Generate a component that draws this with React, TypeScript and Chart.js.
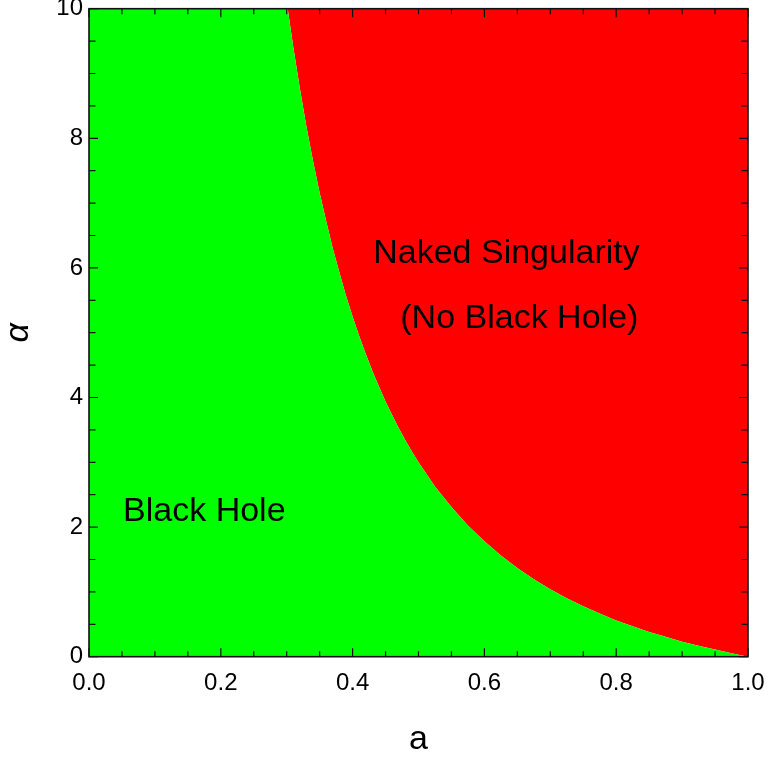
import React, { useEffect, useRef } from "react";
import { Chart, registerables } from "chart.js";

Chart.register(...registerables);

// Boundary between the black-hole region and the naked-singularity region
const boundaryA = [
  0.3015, 0.31, 0.32, 0.33, 0.34, 0.35, 0.36, 0.37, 0.38, 0.39, 0.4, 0.41, 0.42, 0.43, 0.44, 0.45, 0.46, 0.47,
  0.48, 0.49, 0.5, 0.525, 0.55, 0.575, 0.6, 0.625, 0.65, 0.675, 0.7, 0.725, 0.75, 0.775, 0.8, 0.825, 0.85,
  0.875, 0.9, 0.925, 0.95, 0.975, 1.0,
];
const boundaryAlpha = [
  10, 9.41, 8.77, 8.18, 7.65, 7.16, 6.72, 6.3, 5.93, 5.57, 5.25, 4.95, 4.67, 4.41, 4.17, 3.94, 3.73, 3.53,
  3.34, 3.165, 3.0, 2.628, 2.31, 2.025, 1.78, 1.56, 1.37, 1.195, 1.04, 0.9025, 0.78, 0.665, 0.56, 0.469, 0.38,
  0.306, 0.23, 0.169, 0.11, 0.052, 0,
];

// Axis ticks
const xMajorTicks = [0, 0.2, 0.4, 0.6, 0.8, 1.0];
const xMinorTicks = [0.05, 0.1, 0.15, 0.25, 0.3, 0.35, 0.45, 0.5, 0.55, 0.65, 0.7, 0.75, 0.85, 0.9, 0.95];
const yMajorTicks = [0, 2, 4, 6, 8, 10];
const yMinorTicks = [0.5, 1, 1.5, 2.5, 3, 3.5, 4.5, 5, 5.5, 6.5, 7, 7.5, 8.5, 9, 9.5];

// Region labels (text, a, alpha of baseline)
const labelTexts = ["Naked Singularity", "(No Black Hole)", "Black Hole"];
const labelA = [0.6335, 0.653, 0.175];
const labelAlpha = [6.075, 5.07, 2.1];

const FONT = '"Liberation Sans", Arial, sans-serif';

const framePlugin = {
  id: "frameTicks",
  afterDatasetsDraw(chart: any) {
    const ctx = chart.ctx as CanvasRenderingContext2D;
    const xs = chart.scales.x;
    const ys = chart.scales.y;
    ctx.save();
    ctx.fillStyle = "#000";
    ctx.font = `34px ${FONT}`;
    ctx.textAlign = "center";
    ctx.textBaseline = "alphabetic";
    labelTexts.forEach((t, i) => {
      ctx.fillText(t, xs.getPixelForValue(labelA[i]), ys.getPixelForValue(labelAlpha[i]));
    });
    ctx.restore();
  },
  afterDraw(chart: any) {
    const ctx = chart.ctx as CanvasRenderingContext2D;
    const xs = chart.scales.x;
    const ys = chart.scales.y;
    const { left, right, top, bottom } = chart.chartArea;
    ctx.save();
    ctx.strokeStyle = "#111";
    ctx.lineWidth = 1.2;
    ctx.beginPath();
    const xt = (vals: number[], len: number) => {
      vals.forEach((v) => {
        const px = xs.getPixelForValue(v);
        ctx.moveTo(px, bottom);
        ctx.lineTo(px, bottom - len);
        ctx.moveTo(px, top);
        ctx.lineTo(px, top + len);
      });
    };
    const yt = (vals: number[], len: number) => {
      vals.forEach((v) => {
        const py = ys.getPixelForValue(v);
        ctx.moveTo(left, py);
        ctx.lineTo(left + len, py);
        ctx.moveTo(right, py);
        ctx.lineTo(right - len, py);
      });
    };
    xt(xMajorTicks, 8.5);
    xt(xMinorTicks, 5.5);
    yt(yMajorTicks, 9);
    yt(yMinorTicks, 6.5);
    ctx.stroke();
    ctx.lineWidth = 1.6;
    ctx.strokeRect(left, top, right - left, bottom - top);
    ctx.restore();
  },
};

export default function App() {
  const canvasRef = useRef<HTMLCanvasElement | null>(null);

  useEffect(() => {
    if (!canvasRef.current) return;
    const boundary = boundaryA.map((a, i) => ({ x: a, y: boundaryAlpha[i] }));
    const greenData = [{ x: 0, y: 10 }, ...boundary];

    const chart = new Chart(canvasRef.current, {
      type: "scatter",
      data: {
        datasets: [
          {
            label: "Black Hole",
            data: greenData,
            showLine: true,
            fill: "start",
            backgroundColor: "#00ff00",
            borderWidth: 0,
            borderColor: "rgba(0,0,0,0)",
            pointRadius: 0,
            tension: 0,
          },
          {
            label: "Naked Singularity",
            data: boundary,
            showLine: true,
            fill: "end",
            backgroundColor: "#ff0000",
            borderWidth: 0,
            borderColor: "rgba(0,0,0,0)",
            pointRadius: 0,
            tension: 0,
          },
        ],
      },
      options: {
        responsive: false,
        animation: false,
        devicePixelRatio: 1,
        layout: { padding: { top: 8.7, right: 21, left: 0, bottom: 0 } },
        plugins: {
          legend: { display: false },
          tooltip: { enabled: false },
        },
        scales: {
          x: {
            type: "linear",
            min: 0,
            max: 1,
            grid: { display: false, drawTicks: false },
            border: { display: false },
            ticks: {
              stepSize: 0.2,
              padding: 12,
              color: "#000",
              font: { family: FONT, size: 24 },
              maxRotation: 0,
              callback: (v: any) => Number(v).toFixed(1),
            },
            title: {
              display: true,
              text: "a",
              color: "#000",
              font: { family: FONT, size: 34 },
              padding: { top: 0, bottom: 0 },
            },
            afterFit: (s: any) => {
              s.height = 103.3;
              s.paddingLeft = 0;
              s.paddingRight = 0;
            },
          },
          y: {
            type: "linear",
            min: 0,
            max: 10,
            grid: { display: false, drawTicks: false },
            border: { display: false },
            ticks: {
              stepSize: 2,
              padding: 6,
              color: "#000",
              font: { family: FONT, size: 24 },
              callback: (v: any) => String(v),
            },
            title: {
              display: true,
              text: "α",
              color: "#000",
              font: { family: FONT, size: 34, style: "italic", lineHeight: 1.1 },
              padding: { top: 0, bottom: 0 },
            },
            afterFit: (s: any) => {
              s.width = 89;
              s.paddingTop = 0;
              s.paddingBottom = 0;
            },
          },
        },
      },
      plugins: [framePlugin],
    } as any);

    return () => chart.destroy();
  }, []);

  return (
    <div style={{ position: "fixed", left: 0, top: 0, width: 769, height: 760, background: "#fff" }}>
      <canvas ref={canvasRef} width={769} height={760} style={{ display: "block" }} />
    </div>
  );
}
